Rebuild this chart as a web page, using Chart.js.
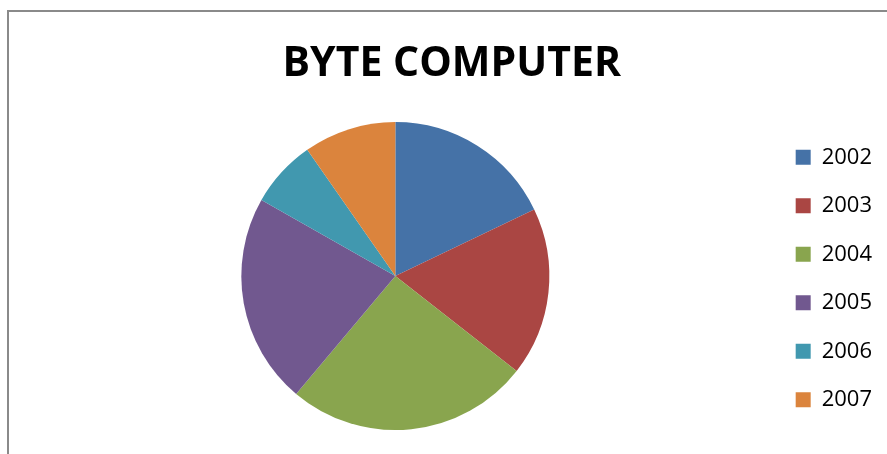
<!DOCTYPE html>
<html lang="en">
<head>
    <meta charset="UTF-8">
    <title>BYTE COMPUTER</title>
    <script src="https://cdn.jsdelivr.net/npm/chart.js"></script>
    <style>
        html, body {
            margin: 0;
            padding: 0;
            background: #fff;
            overflow: hidden;
        }
        /* chart frame, only its left and top edges are in view */
        .frame {
            position: absolute;
            left: 7px;
            top: 10px;
            width: 1000px;
            height: 1000px;
            border-left: 2px solid #8a8a8a;
            border-top: 2px solid #8a8a8a;
        }
        .chart-container {
            position: absolute;
            left: 9px;
            top: 12px;
            width: 877px;
            height: 441px;
        }
    </style>
</head>
<body>
    <div class="frame"></div>
    <div class="chart-container">
        <canvas id="myChart"></canvas>
    </div>
    <script type="text/javascript">
        // 年ごとの割合
        const years = ['2002', '2003', '2004', '2005', '2006', '2007'];
        const shares = [17.9, 17.7, 25.6, 22.1, 7.1, 9.7];
        const sliceColors = ['#4572A7', '#AA4643', '#89A54E', '#71588F', '#4198AF', '#DB843D'];

        const ctx = document.getElementById('myChart').getContext('2d');
        const myChart = new Chart(ctx, {
            type: 'pie',
            data: {
                labels: years,
                datasets: [{
                    data: shares,
                    backgroundColor: sliceColors,
                    borderWidth: 0,
                    radius: 154
                }]
            },
            options: {
                responsive: true,
                maintainAspectRatio: false,
                animation: false,
                layout: {
                    padding: { left: 12.5, right: 4, top: 0, bottom: 0 }
                },
                plugins: {
                    title: {
                        display: true,
                        text: 'BYTE COMPUTER',
                        color: '#000',
                        font: { family: 'Open Sans', size: 41, weight: 'bold' },
                        padding: { top: 28, bottom: 10 }
                    },
                    legend: {
                        position: 'right',
                        // 空のタイトルで凡例を下へずらす
                        title: {
                            display: true,
                            text: '',
                            font: { size: 10 },
                            padding: { top: 80, bottom: 0 }
                        },
                        labels: {
                            color: '#000',
                            font: { family: 'Open Sans', size: 22 },
                            boxWidth: 15,
                            boxHeight: 15,
                            padding: 26.5
                        }
                    },
                    tooltip: { enabled: false }
                }
            }
        });
    </script>
</body>
</html>
